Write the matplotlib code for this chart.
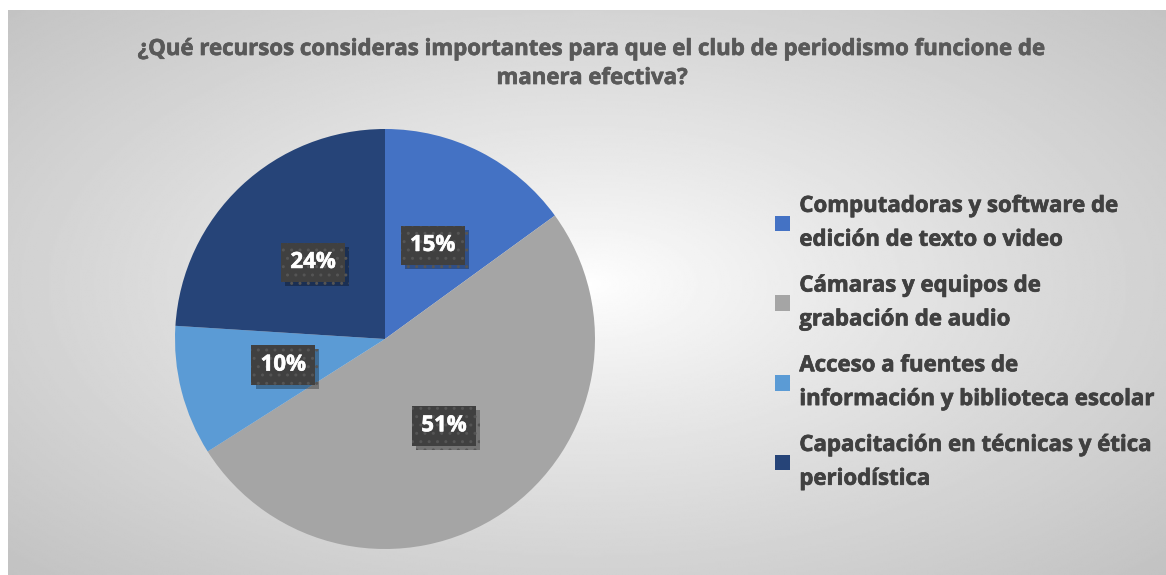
import numpy as np
import matplotlib.pyplot as plt
import matplotlib.patheffects as pe

# Survey results
title = "¿Qué recursos consideras importantes para que el club de periodismo funcione de\nmanera efectiva?"
labels = [
    "Computadoras y software de\nedición de texto o video",
    "Cámaras y equipos de\ngrabación de audio",
    "Acceso a fuentes de\ninformación y biblioteca escolar",
    "Capacitación en técnicas y ética\nperiodística",
]
shares = [15, 51, 10, 24]
colors = ["#4472C4", "#A5A5A5", "#5B9BD5", "#264478"]

W, H = 1166, 575
fig = plt.figure(figsize=(W / 100, H / 100), dpi=100)
fig.patch.set_facecolor("white")

# radial grey background behind the chart
bg = fig.add_axes([8 / W, 0, 1158 / W, 565 / H], zorder=0)
yy, xx = np.mgrid[0:300, 0:600]
cx, cy = 300, 145
d = np.sqrt(((xx - cx) / 300.0) ** 2 + ((yy - cy) / 155.0) ** 2) / np.sqrt(2)
shade = 1.0 - 0.24 * np.clip(d, 0, 1) ** 0.85
bg.imshow(shade, cmap="gray", vmin=0, vmax=1, aspect="auto", interpolation="bilinear")
bg.axis("off")

plt.rcParams["font.family"] = ["Open Sans", "DejaVu Sans"]


def heavy(color, w=0.5):
    # thicken glyphs a little with a stroke of the same colour
    return [pe.withStroke(linewidth=w, foreground=color)]


cxp, cyp, r = 385, 339, 210
ax = fig.add_axes([(cxp - r) / W, (H - cyp - r) / H, 2 * r / W, 2 * r / H], zorder=1)
wedges, texts, autotexts = ax.pie(
    shares, colors=colors, startangle=90, counterclock=False,
    autopct="%d%%", pctdistance=0.5, wedgeprops=dict(linewidth=0),
    textprops=dict(color="white", fontsize=16, fontweight="bold"),
)
ax.set_xlim(-1, 1)
ax.set_ylim(-1, 1)
ax.set_aspect("equal")
ax.axis("off")

for t in autotexts:
    t.set_bbox(dict(boxstyle="square,pad=0.42", facecolor="#404040",
                    edgecolor="#555555", linewidth=0, hatch=".."))
    t.get_bbox_patch().set_path_effects([
        pe.SimplePatchShadow(offset=(3, -3), shadow_rgbFace="black", alpha=0.3),
        pe.Normal(),
    ])
    t.set_path_effects(heavy("white", 0.4))

fig.text(592 / W, 1 - 64 / H, title, ha="center", va="center", fontsize=16,
         fontweight="bold", color="#595959", linespacing=1.5,
         path_effects=heavy("#595959"))

leg = fig.legend(wedges, labels, loc="upper left", bbox_to_anchor=(766 / W, 1 - 187 / H),
                 frameon=False, fontsize=16, handlelength=0.7, handleheight=0.7,
                 handletextpad=0.4, labelspacing=1.12, borderaxespad=0)
for txt in leg.get_texts():
    txt.set_fontweight("bold")
    txt.set_color("#404040")
    txt.set_linespacing(1.8)
    txt.set_path_effects(heavy("#404040"))

fig.savefig("out.png", dpi=100)
